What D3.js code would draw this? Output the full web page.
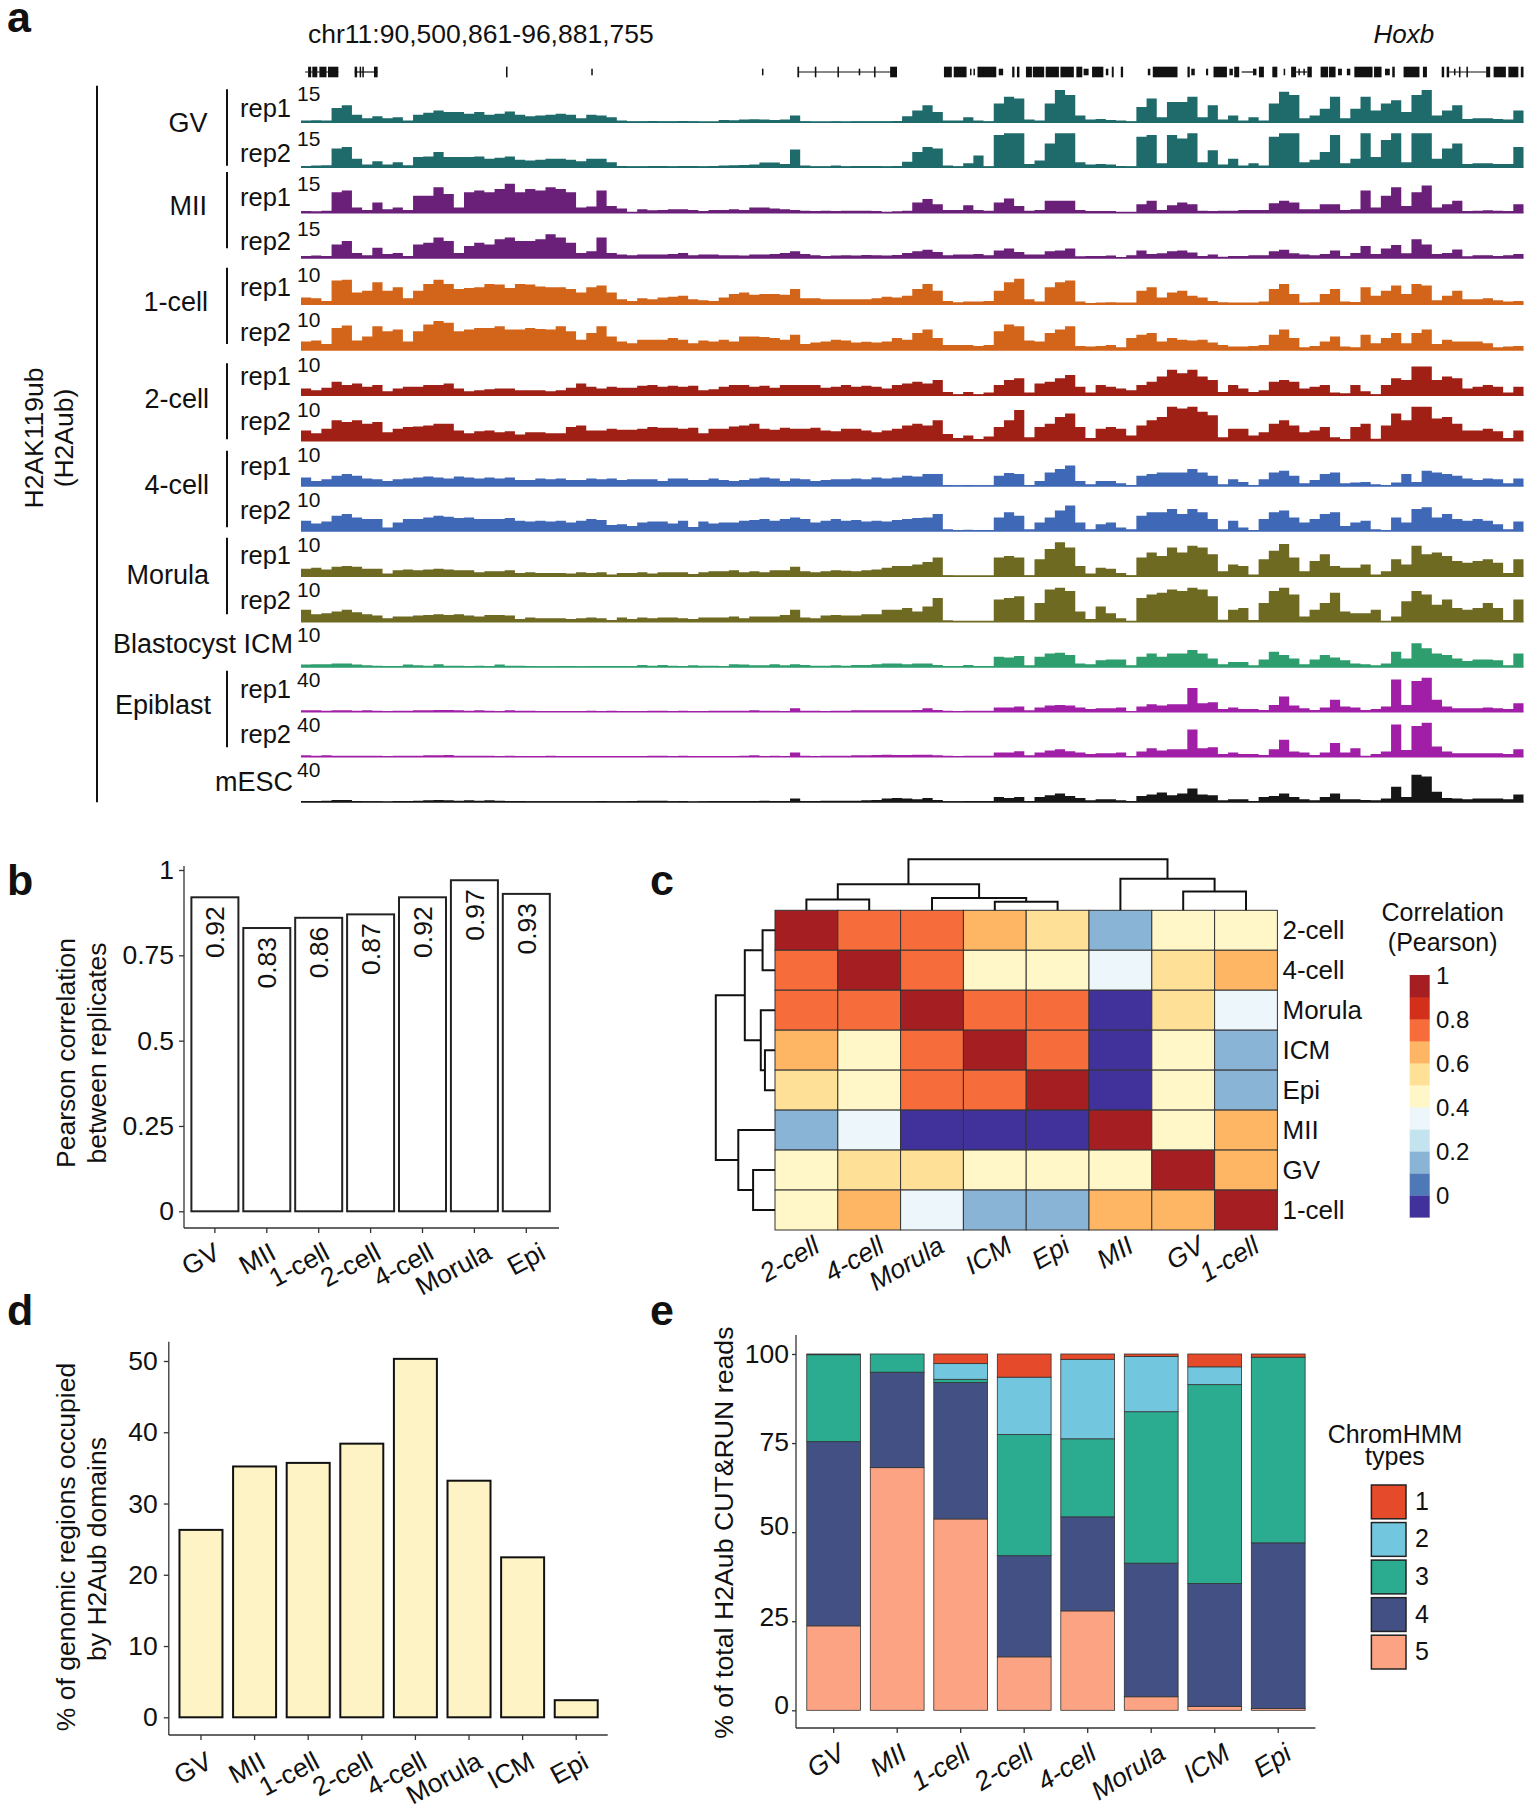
<!DOCTYPE html>
<html><head><meta charset="utf-8">
<script src="https://cdn.jsdelivr.net/npm/d3@7/dist/d3.min.js"></script>
<style>
html,body{margin:0;background:#fff}
svg{display:block}
text{font-family:"Liberation Sans",Arial,sans-serif;fill:#111}
</style></head><body><svg id="fig" width="1534" height="1810"></svg>
<script>
// ---------- panel a: signal per 53 kb bin, as % of each track's axis maximum ----------
const locusLabel = "chr11:90,500,861-96,881,755";
const locusKb = 6381;
const gvRep1 = [5,6,5,42,50,22,12,18,12,15,5,22,28,35,30,30,25,30,22,25,32,22,18,20,22,25,22,12,22,20,15,5,3,3,4,3,3,4,3,2,2,7,6,8,9,8,7,8,20,3,2,2,3,2,3,3,3,3,4,18,35,50,30,5,5,15,5,3,55,75,70,8,5,55,95,80,20,8,10,7,5,3,45,70,15,60,60,75,15,50,8,20,5,15,5,55,90,80,12,20,40,75,12,40,75,35,55,65,30,80,95,20,35,50,10,12,12,10,8,35];
const gvRep2 = [4,5,6,55,60,25,8,18,8,15,6,30,32,45,30,30,30,32,25,28,32,22,20,22,25,25,22,18,25,25,15,4,3,3,4,4,3,4,4,3,4,5,6,7,8,14,14,10,52,5,3,3,5,3,4,4,4,3,4,16,45,60,55,5,3,12,35,3,95,100,100,10,20,70,100,100,15,8,10,8,4,3,90,95,12,95,85,100,15,50,8,25,5,12,5,90,100,100,15,22,45,95,12,25,100,30,80,100,15,100,100,25,55,70,10,12,12,10,10,60];
const miiRep1 = [5,4,6,60,65,15,8,30,10,15,8,50,50,75,55,15,60,65,60,70,85,60,70,65,75,70,60,15,18,65,20,12,3,10,7,8,10,10,8,5,8,8,10,8,15,15,12,10,8,6,5,6,5,6,6,6,5,3,4,6,30,40,25,8,8,22,8,6,30,42,20,6,8,35,35,35,8,5,5,5,3,3,25,35,8,22,30,25,6,5,6,6,8,8,8,28,35,30,10,10,25,25,8,10,65,15,50,75,20,60,80,15,25,35,5,6,7,6,5,25];
const miiRep2 = [6,7,6,40,50,15,8,30,12,15,6,40,45,60,50,15,35,45,40,55,60,50,50,55,70,60,45,15,20,60,15,10,8,10,10,10,12,15,8,10,10,8,8,7,10,10,12,15,20,12,8,6,7,8,7,9,8,7,9,15,20,24,18,8,10,10,12,8,22,28,18,10,10,20,22,28,5,6,6,7,3,8,22,12,14,20,22,16,6,10,4,6,6,8,8,20,24,14,10,8,12,22,6,15,35,12,28,38,14,55,40,12,15,25,5,8,8,6,8,12];
const oneCellRep1 = [20,18,10,70,72,35,40,65,40,50,18,40,60,72,60,45,48,50,60,58,48,60,58,52,50,50,45,35,50,55,35,15,10,18,15,20,22,25,15,12,10,20,30,35,28,30,30,28,45,18,18,15,15,15,15,15,18,22,20,25,45,60,40,10,6,8,8,10,40,65,75,15,8,50,65,70,8,4,5,6,5,5,40,50,20,35,40,25,20,10,6,5,5,5,8,45,60,30,5,6,30,45,8,7,50,25,40,55,30,60,55,12,25,40,15,15,18,12,8,10];
const oneCellRep2 = [25,28,18,65,72,28,40,70,55,60,25,55,75,85,80,55,60,65,65,70,60,60,65,62,60,70,55,30,50,70,40,25,20,30,30,30,35,30,20,28,25,30,25,40,40,38,35,30,45,18,22,25,30,28,22,24,22,25,35,30,50,60,35,15,15,15,12,15,55,75,70,28,25,50,60,70,12,10,12,15,8,35,45,50,25,35,30,28,30,22,15,10,10,12,15,45,60,35,8,12,25,40,10,8,45,20,35,50,20,50,60,18,30,25,25,25,20,8,10,12];
const twoCellRep1 = [20,15,22,40,30,35,25,30,12,20,25,25,30,30,35,20,12,15,18,20,20,15,15,15,12,15,22,35,25,20,25,22,22,28,30,25,28,25,28,15,18,25,30,30,25,28,22,30,30,30,30,22,25,30,25,28,25,20,30,35,40,35,45,10,3,10,3,8,30,45,50,8,35,40,50,60,25,8,30,25,20,15,30,40,55,75,65,75,55,45,10,30,20,10,15,40,45,40,20,25,30,8,6,30,12,3,30,50,45,85,85,45,55,50,20,25,30,25,8,25];
const twoCellRep2 = [30,22,35,60,55,60,50,55,25,35,40,42,45,50,50,30,22,28,30,25,28,18,25,25,22,22,40,45,30,30,35,32,32,35,40,38,38,35,38,22,35,35,42,45,50,35,32,38,35,35,38,30,28,35,35,30,25,30,35,45,50,45,60,20,8,15,5,12,40,60,90,10,40,50,70,80,40,8,35,40,35,15,45,60,70,100,95,100,85,75,10,35,35,15,25,50,60,45,25,30,40,10,5,40,50,6,45,80,60,100,100,65,70,50,30,30,35,28,8,30];
const fourCellRep1 = [25,15,20,30,35,30,22,20,15,20,22,25,28,25,22,28,25,22,25,22,25,18,18,22,20,22,18,18,22,20,22,18,20,20,20,15,22,22,18,18,22,18,15,18,22,25,22,15,22,20,15,18,20,20,22,20,25,22,25,30,28,35,35,3,2,3,2,2,30,38,35,3,15,40,50,60,15,5,15,15,8,3,30,35,40,40,40,50,40,30,5,20,12,3,20,40,45,30,8,18,35,40,8,10,12,5,3,10,35,12,45,40,35,30,22,18,22,20,8,22];
const fourCellRep2 = [30,22,28,45,50,40,35,35,10,25,35,35,40,45,42,38,40,35,35,35,38,30,28,30,28,30,25,30,35,32,18,20,15,25,28,28,22,30,12,28,22,25,25,30,32,35,30,35,40,35,25,30,35,30,32,28,30,28,32,35,38,40,50,5,3,4,3,3,40,55,45,5,25,40,60,75,25,5,20,25,10,5,45,55,55,65,50,65,55,35,5,30,10,3,35,55,60,40,25,35,50,55,15,25,30,5,3,40,25,65,70,40,50,35,30,35,30,20,5,28];
const morulaRep1 = [22,25,20,28,30,28,22,22,8,18,20,18,20,22,20,18,18,12,15,15,18,10,12,10,10,10,8,12,10,12,5,10,10,12,8,12,12,12,7,12,15,15,18,12,15,12,18,18,28,15,12,15,18,16,15,18,20,25,30,30,35,42,55,3,2,2,2,2,55,60,55,3,50,80,100,85,30,8,25,22,10,3,55,70,60,85,70,90,85,65,15,35,30,5,50,75,95,55,15,45,65,30,25,25,35,5,15,50,35,90,65,70,60,45,40,45,50,40,10,50];
const morulaRep2 = [35,22,25,30,35,28,22,18,10,15,15,18,20,22,20,22,18,15,20,20,18,8,12,10,10,10,8,10,12,10,5,12,8,12,10,12,12,10,8,12,12,12,15,10,15,15,15,20,35,12,10,18,20,18,18,22,22,35,35,40,30,45,70,4,3,3,3,3,65,70,75,5,55,95,100,90,30,8,45,25,10,3,70,80,85,95,90,100,95,75,6,35,40,5,55,90,100,80,15,35,55,85,30,25,25,35,3,15,60,90,80,50,65,40,35,40,55,40,5,65];
const icmTrack = [7,8,8,10,10,7,5,4,3,3,7,5,4,8,4,4,3,4,3,7,4,4,3,2,2,3,3,2,3,3,3,3,3,6,4,6,4,3,5,4,4,3,8,7,5,5,8,5,8,6,4,4,5,4,6,6,8,10,10,8,10,10,6,3,3,6,3,3,30,28,32,5,30,40,42,35,10,8,20,22,22,5,30,40,30,40,40,50,40,25,8,15,15,5,22,45,35,25,8,22,35,28,20,10,8,5,10,45,25,70,55,40,35,25,18,22,22,20,5,40];
const epiRep1 = [4,4,3,4,4,3,4,3,0,3,3,4,4,5,5,4,3,4,3,2,4,3,3,2,2,2,2,2,3,2,3,2,2,2,3,3,2,3,1,2,3,3,3,3,4,3,3,2,10,3,3,2,3,3,4,4,4,4,4,4,5,10,5,3,2,3,3,3,12,12,15,4,12,18,20,18,12,8,10,10,12,0,15,22,18,22,22,70,25,28,8,12,8,8,5,20,45,18,10,5,12,35,15,12,5,8,15,95,20,90,100,35,15,10,10,10,12,10,8,25];
const epiRep2 = [4,3,4,3,3,3,3,3,0,3,3,3,4,4,5,3,3,3,3,2,3,2,2,2,3,2,2,2,2,2,2,2,2,2,3,3,2,3,1,2,2,2,2,3,4,2,3,2,12,3,2,3,3,3,4,4,5,6,5,5,6,6,4,3,2,3,3,3,12,12,16,4,12,18,22,16,12,8,10,10,12,0,15,25,18,22,22,80,25,28,8,12,8,8,5,22,50,15,12,5,12,40,12,25,3,8,15,95,20,90,100,30,15,10,10,10,10,10,8,22];
const mescTrack = [3,3,4,6,6,3,2,2,1,3,3,4,5,6,5,4,5,4,5,4,3,3,2,2,2,2,2,2,2,3,2,2,3,4,4,4,2,3,1,2,3,3,3,3,3,4,3,3,10,3,3,4,4,4,4,5,6,10,12,10,8,12,6,2,2,3,3,3,15,12,15,3,15,20,25,18,12,5,8,8,5,3,18,22,28,20,25,40,22,20,5,8,8,3,15,18,25,15,8,5,15,25,8,8,6,5,10,45,15,80,75,30,12,10,8,10,10,10,8,22];

const trackNames  = ["GV rep1","GV rep2","MII rep1","MII rep2","1-cell rep1","1-cell rep2","2-cell rep1","2-cell rep2","4-cell rep1","4-cell rep2","Morula rep1","Morula rep2","Blastocyst ICM","Epiblast rep1","Epiblast rep2","mESC"];
const trackValues = [gvRep1,gvRep2,miiRep1,miiRep2,oneCellRep1,oneCellRep2,twoCellRep1,twoCellRep2,fourCellRep1,fourCellRep2,morulaRep1,morulaRep2,icmTrack,epiRep1,epiRep2,mescTrack];
const trackScaleLabels = [15,15,15,15,10,10,10,10,10,10,10,10,10,40,40,40];
const trackColors = ["#1f6b6b","#1f6b6b","#6a1f78","#6a1f78","#d2651a","#d2651a","#a02015","#a02015","#3f68b6","#3f68b6","#6e6a22","#6e6a22","#2e9e6e","#a01fa6","#a01fa6","#161616"];

// gene models, kb from locus start
const geneIntrons = [[21,195],[280,400],[2595,3111],[4910,4969],[5194,5253],[5993,6186]];
const exonsTall = [[37,53],[59,85],[96,133],[141,195],[280,293],[306,314],[320,328],[381,400],[1070,1078],[2591,2600],[2682,2690],[2800,2808],[2991,2999],[3075,3111],[3356,3397],[3407,3474],[3531,3629],[3712,3724],[3737,3750],[3784,3815],[3820,3879],[3887,3956],[3964,4034],[4047,4078],[4129,4188],[4232,4242],[4279,4291],[4446,4575],[4627,4639],[4763,4833],[4871,4897],[5000,5026],[5070,5096],[5168,5194],[5253,5276],[5322,5361],[5366,5400],[5498,5593],[5601,5640],[5696,5709],[5755,5838],[5856,5877],[5954,5967],[5980,5993],[6044,6052],[6083,6091],[6186,6207],[6225,6289],[6302,6354],[6367,6381]];
const exonsShort = [[1515,1523],[2406,2414],[2911,2919],[3492,3498],[3510,3516],[3642,3665],[4085,4111],[4201,4214],[4420,4433],[4647,4665],[4724,4735],[4846,4864],[4969,4987],[5129,5137],[5206,5212],[5232,5238],[5413,5433],[5459,5477],[5658,5683],[6018,6026]];

// ---------- panel b ----------
const bCategories = ["GV","MII","1-cell","2-cell","4-cell","Morula","Epi"];
const bValues = [0.92,0.83,0.86,0.87,0.92,0.97,0.93];
const bTicks = [0,0.25,0.5,0.75,1];
const bTickLabels = ["0","0.25","0.5","0.75","1"];

// ---------- panel c ----------
const cLabels = ["2-cell","4-cell","Morula","ICM","Epi","MII","GV","1-cell"];
const cMatrix = [
 [1,.75,.75,.65,.55,.15,.45,.45],
 [.75,1,.75,.45,.45,.35,.55,.65],
 [.75,.75,1,.75,.75,-.05,.55,.35],
 [.65,.45,.75,1,.75,-.05,.45,.15],
 [.55,.45,.75,.75,1,-.05,.45,.15],
 [.15,.35,-.05,-.05,-.05,1,.45,.65],
 [.45,.55,.55,.45,.45,.45,1,.65],
 [.45,.65,.35,.15,.15,.65,.65,1]];
const cThresholds = [0,.1,.2,.3,.4,.5,.6,.7,.8,.9];
const cColors = ["#41319a","#4f78b6","#89b4d6","#c3e4ef","#ecf6fb","#fff7c8","#fee097","#feb664","#f76c3b","#d2301a","#a51f22"];
const cLegendTicks = [1,.8,.6,.4,.2,0];
const dendroTree = {h:1,children:[
  {h:.51,children:[
    {h:.21,children:[{i:0},{i:1}]},
    {h:.24,children:[{i:2},{h:.17,children:[{i:3},{i:4}]}]}]},
  {h:.62,children:[{i:5},{h:.37,children:[{i:6},{i:7}]}]}]};

// ---------- panel d ----------
const dCategories = ["GV","MII","1-cell","2-cell","4-cell","Morula","ICM","Epi"];
const dValues = [26.3,35.2,35.7,38.4,50.3,33.2,22.45,2.4];
const dTicks = [0,10,20,30,40,50];

// ---------- panel e ----------
const eCategories = ["GV","MII","1-cell","2-cell","4-cell","Morula","ICM","Epi"];
const eType5 = [23.7,68.1,53.7,15,27.9,3.8,1.1,.5];
const eType4 = [51.7,26.8,38.3,28.4,26.4,37.5,34.5,46.5];
const eType3 = [24.4,5.1,.9,34,21.9,42.5,55.8,52.1];
const eType2 = [0,0,4.4,16.1,22.3,15.5,5,0];
const eType1 = [.2,0,2.7,6.5,1.5,.7,3.6,.9];
const eTypes = ["1","2","3","4","5"];
const eColors = ["#e54b2b","#72c7de","#2bab90","#425084","#fca384"];
const eTicks = [0,25,50,75,100];

// ========== drawing ==========
const svg = d3.select("#fig");
const FS = 26.5;
function label(g,x,y,s,o={}){
  const t=g.append("text").attr("x",x).attr("y",y).text(s)
    .attr("font-size",o.size||FS).attr("text-anchor",o.anchor||"start");
  if(o.italic)t.attr("font-style","italic");
  if(o.bold)t.attr("font-weight","bold");
  if(o.rot!=null)t.attr("transform",`rotate(${o.rot} ${x} ${y})`);
  return t;
}
function styleAxis(g){
  g.selectAll("path.domain").attr("stroke","#333").attr("stroke-width",1.3);
  g.selectAll(".tick line").attr("stroke","#333").attr("stroke-width",1.3);
  g.selectAll(".tick text").attr("font-size",FS).attr("font-family",'"Liberation Sans",Arial,sans-serif').attr("fill","#111");
}
[["a",7,32],["b",7,895],["c",650,895],["d",7,1325],["e",650,1325]].forEach(p=>label(svg,p[1],p[2],p[0],{size:43,bold:true}));

// ---- panel a ----
const A = svg.append("g");
label(A,308,42.7,locusLabel,{size:26.5});
label(A,1373.5,42.7,"Hoxb",{italic:true,size:26});
const xKb = d3.scaleLinear().domain([0,locusKb]).range([301,1523.5]);
A.selectAll(".intron").data(geneIntrons).join("line")
  .attr("x1",d=>xKb(d[0])).attr("x2",d=>xKb(d[1])).attr("y1",72).attr("y2",72).attr("stroke","#111").attr("stroke-width",1.2);
A.selectAll(".ex").data(exonsTall).join("rect").attr("x",d=>xKb(d[0])).attr("width",d=>Math.max(1.5,xKb(d[1])-xKb(d[0]))).attr("y",66.7).attr("height",10.6).attr("fill","#111");
A.selectAll(".exs").data(exonsShort).join("rect").attr("x",d=>xKb(d[0])).attr("width",d=>Math.max(1.5,xKb(d[1])-xKb(d[0]))).attr("y",68.7).attr("height",6.6).attr("fill","#111");

const baselines = [122.3,167.3,212.7,258,304.3,350,395.3,440.7,486,531,576.3,621.7,667,711.7,756.7,802];
const scaleBase = [101,146,191,236,282.3,326.7,371.7,416.7,461.7,507.3,552.3,597.3,641.7,686.7,731.7,776.7];
const xBin = d3.scaleLinear().domain([0,120]).range([301,1523.5]);
trackValues.forEach((vals,k)=>{
  const y = d3.scaleLinear().domain([0,100]).range([baselines[k],baselines[k]-34]);
  const pts = [...vals.map((v,i)=>[i,v]),[120,vals[119]]];
  const area = d3.area().x(d=>xBin(d[0])).y0(y(0)).y1(d=>y(d[1])).curve(d3.curveStepAfter);
  A.append("path").datum(pts).attr("d",area).attr("fill",trackColors[k]).attr("aria-label",trackNames[k]);
  A.append("line").attr("x1",301).attr("x2",1523.5).attr("y1",y(0)).attr("y2",y(0)).attr("stroke",trackColors[k]).attr("stroke-width",1.6);
  label(A,320.4,scaleBase[k],trackScaleLabels[k],{size:21,anchor:"end"});
});
[["rep1",116.7],["rep2",161.7],["rep1",205.7],["rep2",250],["rep1",296],["rep2",340.7],["rep1",385],["rep2",430],["rep1",475],["rep2",519.3],["rep1",564],["rep2",609],["rep1",698.3],["rep2",743.3]]
  .forEach(r=>label(A,240,r[1],r[0],{size:25.5}));
[["GV",131.7,207.5],["MII",215,207],["1-cell",311,208],["2-cell",408,209],["4-cell",494,209],["Morula",584,209],["Epiblast",714,211]]
  .forEach(r=>label(A,r[2],r[1],r[0],{size:27,anchor:"end"}));
label(A,293,653,"Blastocyst ICM",{size:27,anchor:"end"});
label(A,293,790.7,"mESC",{size:27,anchor:"end"});
[[89.3,165.7],[172,248.3],[267.7,344],[363.3,439.3],[450.7,527.3],[537.7,614.3],[670.7,747.3]]
  .forEach(s=>A.append("line").attr("x1",227).attr("x2",227).attr("y1",s[0]).attr("y2",s[1]).attr("stroke","#111").attr("stroke-width",2));
A.append("line").attr("x1",97).attr("x2",97).attr("y1",85.7).attr("y2",802.3).attr("stroke","#111").attr("stroke-width",2);
label(A,43,438,"H2AK119ub",{rot:-90,anchor:"middle"});
label(A,73,438,"(H2Aub)",{rot:-90,anchor:"middle"});

function rotatedX(g,band,cats,y,shifts,angle,italic){
  cats.forEach((c,i)=>label(g,band(c)+band.bandwidth()/2+shifts[i],y,c,{rot:-angle,anchor:"end",italic}));
}

// ---- panel b ----
const B = svg.append("g");
const bx = d3.scaleBand().domain(bCategories).range([188.8,552.4]).paddingInner(0.0944).paddingOuter(0.05);
const by = d3.scaleLinear().domain([0,1]).range([1211.3,870]);
B.selectAll("rect").data(bCategories).join("rect")
  .attr("x",d=>bx(d)).attr("width",bx.bandwidth()).attr("y",(d,i)=>by(bValues[i])).attr("height",(d,i)=>by(0)-by(bValues[i]))
  .attr("fill","#fff").attr("stroke","#222").attr("stroke-width",2);
bCategories.forEach((c,i)=>label(B,bx(c)+bx.bandwidth()/2+9.5,by(bValues[i])+9,bValues[i].toFixed(2),{rot:-90,anchor:"end"}));
const bAxL = B.append("g").attr("transform","translate(184,0)")
  .call(d3.axisLeft(by).tickValues(bTicks).tickFormat((d,i)=>bTickLabels[i]).tickSize(5).tickPadding(5));
bAxL.select("path.domain").attr("d","M0,866V1228"); styleAxis(bAxL);
const bAxB = B.append("g").attr("transform","translate(0,1228)").call(d3.axisBottom(bx).tickSize(5).tickFormat(""));
bAxB.select("path.domain").attr("d","M184,0H559"); styleAxis(bAxB);
rotatedX(B,bx,bCategories,1258,[7,11,12.4,12,13,19,21],28);
label(B,75,1053,"Pearson correlation",{rot:-90,anchor:"middle"});
label(B,106,1053,"between replicates",{rot:-90,anchor:"middle"});

// ---- panel c ----
const C = svg.append("g");
const cx = d3.scaleBand().domain(d3.range(8)).range([775,1277.4]);
const cy = d3.scaleBand().domain(d3.range(8)).range([910.3,1230]);
const cColor = d3.scaleThreshold().domain(cThresholds).range(cColors);
cMatrix.forEach((row,r)=>{
  C.selectAll(".r"+r).data(row).join("rect").attr("x",(d,i)=>cx(i)).attr("y",cy(r))
   .attr("width",cx.bandwidth()).attr("height",cy.bandwidth()).attr("fill",d=>cColor(d)).attr("stroke","#333").attr("stroke-width",1);
});
cLabels.forEach((l,i)=>label(C,1282.5,cy(i)+cy.bandwidth()/2+9,l,{size:26}));
const cxLab = d3.scaleBand().domain(cLabels).range([775,1277.4]);
rotatedX(C,cxLab,cLabels,1251,[15,17,14,19,14,15,23,15],30,true);
// dendrograms
const root = d3.hierarchy(dendroTree);
root.eachAfter(n=>{ n.pos = n.children ? d3.mean(n.children,c=>c.pos) : n.data.i+.5; if(!n.children) n.data.h=0; });
const leafScaleX = d3.scaleLinear().domain([0,8]).range([775,1277.4]);
const leafScaleY = d3.scaleLinear().domain([0,8]).range([910.3,1230]);
const topH = d3.scaleLinear().domain([0,1]).range([910.3,859.3]);
const leftH = d3.scaleLinear().domain([0,1]).range([775,715.8]);
root.descendants().filter(n=>n.children).forEach(n=>{
  const [a,b]=n.children;
  const p=d3.path();
  p.moveTo(leafScaleX(a.pos),topH(a.data.h)); p.lineTo(leafScaleX(a.pos),topH(n.data.h));
  p.lineTo(leafScaleX(b.pos),topH(n.data.h)); p.lineTo(leafScaleX(b.pos),topH(b.data.h));
  C.append("path").attr("d",p).attr("fill","none").attr("stroke","#111").attr("stroke-width",2);
  const q=d3.path();
  q.moveTo(leftH(a.data.h),leafScaleY(a.pos)); q.lineTo(leftH(n.data.h),leafScaleY(a.pos));
  q.lineTo(leftH(n.data.h),leafScaleY(b.pos)); q.lineTo(leftH(b.data.h),leafScaleY(b.pos));
  C.append("path").attr("d",q).attr("fill","none").attr("stroke","#111").attr("stroke-width",2);
});
label(C,1442.7,921,"Correlation",{size:25,anchor:"middle"});
label(C,1442.7,950.5,"(Pearson)",{size:25,anchor:"middle"});
const legY = d3.scaleLinear().domain([-.1,1]).range([1217.3,975]);
cColors.forEach((col,i)=>{
  const v0=(i-1)/10, v1=i/10;
  C.append("rect").attr("x",1409.7).attr("width",20).attr("y",legY(v1)).attr("height",legY(v0)-legY(v1)+.3).attr("fill",col);
});
cLegendTicks.forEach(t=>label(C,1436,legY(t)+9,String(t),{size:24}));

// ---- panel d ----
const D = svg.append("g");
const dx = d3.scaleBand().domain(dCategories).range([176.8,600.4]).paddingInner(0.198).paddingOuter(0.05);
const dy = d3.scaleLinear().domain([0,50]).range([1717.3,1361]);
D.selectAll("rect").data(dCategories).join("rect")
  .attr("x",d=>dx(d)).attr("width",dx.bandwidth()).attr("y",(d,i)=>dy(dValues[i])).attr("height",(d,i)=>dy(0)-dy(dValues[i]))
  .attr("fill","#fdf3c4").attr("stroke","#111").attr("stroke-width",2);
const dAxL = D.append("g").attr("transform","translate(168.8,0)").call(d3.axisLeft(dy).tickValues(dTicks).tickSize(5).tickPadding(6));
dAxL.select("path.domain").attr("d","M0,1341.7V1735"); styleAxis(dAxL);
const dAxB = D.append("g").attr("transform","translate(0,1735)").call(d3.axisBottom(dx).tickSize(5).tickFormat(""));
dAxB.select("path.domain").attr("d","M168.8,0H607.7"); styleAxis(dAxB);
rotatedX(D,dx,dCategories,1767,[13,13,13,13,13,15,14,14],28);
label(D,75,1547,"% of genomic regions occupied",{rot:-90,anchor:"middle"});
label(D,106,1549,"by H2Aub domains",{rot:-90,anchor:"middle"});

// ---- panel e ----
const E = svg.append("g");
const ex = d3.scaleBand().domain(eCategories).range([801.7,1310.2]).paddingInner(0.1528).paddingOuter(0.08);
const ey = d3.scaleLinear().domain([0,100]).range([1710.3,1354]);
const eRows = eCategories.map((c,i)=>({c,"5":eType5[i],"4":eType4[i],"3":eType3[i],"2":eType2[i],"1":eType1[i]}));
const stack = d3.stack().keys(["5","4","3","2","1"])(eRows);
stack.forEach(s=>{
  const col=eColors[eTypes.indexOf(s.key)];
  E.selectAll(".s"+s.key).data(s.filter(d=>d[1]-d[0]>0)).join("rect")
    .attr("x",d=>ex(d.data.c)).attr("width",ex.bandwidth()).attr("y",d=>ey(d[1])).attr("height",d=>ey(d[0])-ey(d[1]))
    .attr("fill",col).attr("stroke","#333").attr("stroke-width",.8);
});
const eAxL = E.append("g").attr("transform","translate(796,0)").call(d3.axisLeft(ey).tickValues(eTicks).tickSize(4).tickPadding(3));
eAxL.select("path.domain").attr("d","M0,1335V1728"); styleAxis(eAxL);
const eTickNudge = [-5,-4,-6,-1,0];
eAxL.selectAll(".tick text").attr("y",(d,i)=>eTickNudge[i]);
const eAxB = E.append("g").attr("transform","translate(0,1728)").call(d3.axisBottom(ex).tickSize(5).tickFormat(""));
eAxB.select("path.domain").attr("d","M796,0H1315.4"); styleAxis(eAxB);
rotatedX(E,ex,eCategories,1758,[13,11.6,11.6,11,10.5,16,17,15],32,true);
label(E,733,1532.6,"% of total H2Aub CUT&RUN reads",{rot:-90,anchor:"middle",size:26.7});
label(E,1395,1443,"ChromHMM",{size:25,anchor:"middle"});
label(E,1395,1465,"types",{size:25,anchor:"middle"});
const legBand = d3.scaleBand().domain(eTypes).range([1485,1669]).paddingInner(0.1);
eTypes.forEach((t,i)=>{
  E.append("rect").attr("x",1371.4).attr("width",34.6).attr("y",legBand(t)).attr("height",legBand.bandwidth())
    .attr("fill",eColors[i]).attr("stroke","#222").attr("stroke-width",1.5);
  label(E,1415,legBand(t)+legBand.bandwidth()/2+8,t,{size:25});
});
</script></body></html>
